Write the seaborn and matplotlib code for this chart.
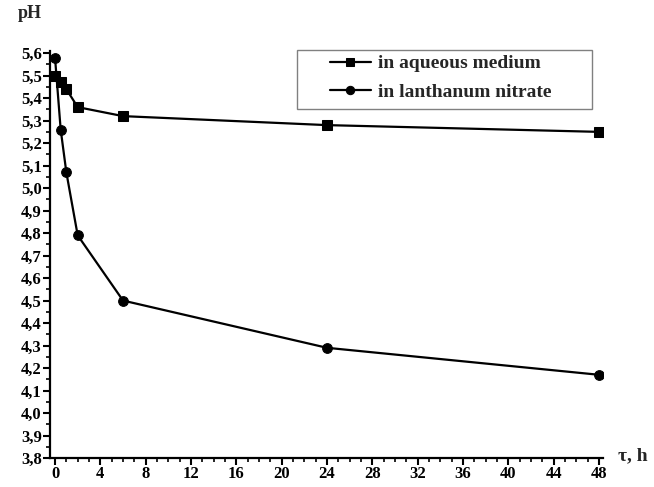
import pandas as pd
import matplotlib.pyplot as plt
import seaborn as sns
from matplotlib.ticker import MultipleLocator, FuncFormatter
from matplotlib.patches import Rectangle

# time, h
time_h = [0, 0.5, 1, 2, 6, 24, 48]
ph_aqueous = [5.50, 5.47, 5.44, 5.36, 5.32, 5.28, 5.25]
ph_lanthanum = [5.58, 5.26, 5.07, 4.79, 4.50, 4.29, 4.17]
series_names = ["in aqueous medium", "in lanthanum nitrate"]

df = pd.DataFrame({
    "t": time_h * 2,
    "pH": ph_aqueous + ph_lanthanum,
    "series": [series_names[0]] * len(time_h) + [series_names[1]] * len(time_h),
})

sns.set_style("ticks")
plt.rcParams['font.family'] = ['Liberation Serif', 'DejaVu Serif']
plt.rcParams['font.weight'] = 'bold'

fig = plt.figure(figsize=(6.54, 4.87), dpi=100)
ax = fig.add_axes([0.0765, 0.0595, 0.8456, 0.836])

sns.lineplot(data=df, x="t", y="pH", hue="series", style="series",
             markers={series_names[0]: "s", series_names[1]: "o"}, dashes=False,
             palette={series_names[0]: "black", series_names[1]: "black"},
             markersize=7, linewidth=1.6, markeredgecolor="black", ax=ax)

ax.set_xlim(-0.44, 48.35)
ax.set_ylim(3.8, 5.61)
ax.xaxis.set_major_locator(MultipleLocator(4))
ax.xaxis.set_minor_locator(MultipleLocator(1))
ax.yaxis.set_major_locator(MultipleLocator(0.1))
ax.yaxis.set_minor_locator(MultipleLocator(0.05))
ax.yaxis.set_major_formatter(FuncFormatter(lambda v, p: f"{v:.1f}".replace(".", ",")))
ax.tick_params(which="major", direction="out", length=5, width=1.5, labelsize=12, colors="black", pad=1)
ax.tick_params(which="minor", direction="out", length=3, width=1.2, colors="black")
for lab in ax.get_xticklabels() + ax.get_yticklabels():
    lab.set_fontweight("bold")

sns.despine(ax=ax)
for s in ["left", "bottom"]:
    ax.spines[s].set_linewidth(1.6)
    ax.spines[s].set_color("black")

ax.set_xlabel("")
ax.set_ylabel("")
fig.text(30 / 654, 1 - 13 / 487, "pH", fontsize=13, fontweight="bold", ha="center", va="center")
fig.text(633 / 654, 1 - 456 / 487, "τ, h", fontsize=14, fontweight="bold", ha="center", va="center")

# legend frame drawn as a separate box
ax.add_patch(Rectangle((0.4467, 0.857), 0.5333, 0.145, transform=ax.transAxes,
                       fill=False, edgecolor="gray", linewidth=1.0, clip_on=False))
leg = ax.legend(loc="center left", bbox_to_anchor=(0.506, 0.934), frameon=False,
                handlelength=2.1, handletextpad=0.4, borderpad=0, borderaxespad=0,
                labelspacing=0.55, prop={"weight": "bold", "size": 14})
for h in leg.legend_handles:
    h.set_markersize(6)

fig.savefig("out.png", dpi=100)
